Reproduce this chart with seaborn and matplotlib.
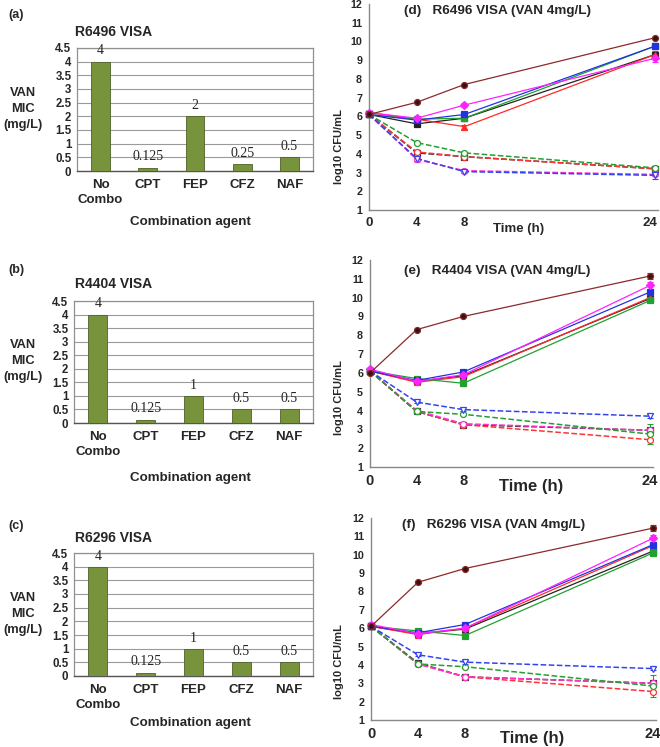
import numpy as np
import pandas as pd
import matplotlib
matplotlib.use("Agg")
import matplotlib.pyplot as plt
import matplotlib.transforms as mtransforms
import seaborn as sns

sns.set_theme(style="white")
plt.rcParams['font.family'] = ['Liberation Sans', 'DejaVu Sans']

# ---------------- data ----------------
agents = ["No\nCombo", "CPT", "FEP", "CFZ", "NAF"]
mic_R6496 = [4, 0.125, 2, 0.25, 0.5]
mic_R4404 = [4, 0.125, 1, 0.5, 0.5]
mic_R6296 = [4, 0.125, 1, 0.5, 0.5]
mic_labels_R6496 = ["4", "0.125", "2", "0.25", "0.5"]
mic_labels_R4404 = ["4", "0.125", "1", "0.5", "0.5"]
mic_labels_R6296 = ["4", "0.125", "1", "0.5", "0.5"]

times = [0, 4, 8, 24]

# panel (d) R6496
d_solid_brown = [6.1, 6.75, 7.7, 10.2]
d_solid_magenta = [6.2, 5.9, 6.6, 9.1]
d_solid_blue = [6.1, 5.8, 6.1, 9.75]
d_solid_green = [6.1, 5.85, 5.9, 9.75]
d_solid_black = [6.1, 5.6, 5.9, 9.3]
d_solid_red = [6.2, 5.85, 5.45, 9.3]
d_dash_green = [6.1, 4.6, 4.05, 3.25]
d_dash_red = [6.1, 4.1, 3.85, 3.2]
d_dash_black = [6.1, 4.05, 3.85, 3.2]
d_dash_blue = [6.1, 3.75, 3.05, 2.85]
d_dash_magenta = [6.1, 3.7, 3.1, 2.9]

# panel (e) R4404
e_solid_brown = [6.0, 8.3, 9.0, 11.15]
e_solid_magenta = [6.2, 5.55, 5.9, 10.65]
e_solid_blue = [6.1, 5.6, 6.05, 10.3]
e_solid_green = [6.1, 5.7, 5.45, 9.85]
e_solid_black = [6.1, 5.55, 5.85, 9.95]
e_solid_red = [6.1, 5.5, 5.8, 10.0]
e_dash_green = [6.1, 3.95, 3.8, 2.75]
e_dash_red = [6.1, 3.95, 3.25, 2.45]
e_dash_black = [6.1, 3.95, 3.25, 2.95]
e_dash_blue = [6.1, 4.45, 4.05, 3.7]
e_dash_magenta = [6.1, 4.0, 3.3, 2.95]

# panel (f) R6296
f_solid_brown = [6.1, 8.5, 9.25, 11.45]
f_solid_magenta = [6.2, 5.7, 6.0, 10.9]
f_solid_blue = [6.1, 5.75, 6.2, 10.55]
f_solid_green = [6.1, 5.85, 5.6, 10.1]
f_solid_black = [6.1, 5.7, 5.95, 10.2]
f_solid_red = [6.1, 5.65, 6.0, 10.5]
f_dash_green = [6.1, 4.05, 3.9, 2.85]
f_dash_red = [6.1, 4.05, 3.35, 2.55]
f_dash_black = [6.1, 4.1, 3.35, 3.0]
f_dash_blue = [6.1, 4.55, 4.15, 3.8]
f_dash_magenta = [6.1, 4.05, 3.35, 3.0]

# standard deviations (only the visible ones)
d_err = {"solid_magenta": [0.1, 0.05, 0.1, 0.2], "solid_red": [0.05, 0.05, 0.1, 0.2],
         "dash_blue": [0.05, 0.15, 0.05, 0.2], "dash_green": [0.05, 0.05, 0.05, 0.12],
         "dash_magenta": [0.05, 0.15, 0.05, 0.1]}
e_err = {"solid_magenta": [0.05, 0.05, 0.05, 0.2], "solid_green": [0.05, 0.05, 0.15, 0.1],
         "dash_green": [0.05, 0.05, 0.05, 0.55], "dash_blue": [0.05, 0.05, 0.05, 0.1],
         "solid_brown": [0.05, 0.05, 0.05, 0.15]}
f_err = {"solid_magenta": [0.05, 0.05, 0.05, 0.2], "solid_green": [0.05, 0.05, 0.15, 0.1],
         "dash_green": [0.05, 0.05, 0.05, 0.6], "dash_blue": [0.05, 0.05, 0.1, 0.1],
         "solid_brown": [0.05, 0.05, 0.05, 0.15]}

# ---------------- styles ----------------
STYLE = {
    "solid_brown":   dict(color="#8B2A2A", marker="o", ls="-",  face="#3a1010"),
    "solid_magenta": dict(color="#FF22FF", marker="D", ls="-",  face="#FF22FF"),
    "solid_red":     dict(color="#FF2A2A", marker="^", ls="-",  face="#FF2A2A"),
    "solid_black":   dict(color="#222222", marker="s", ls="-",  face="#222222"),
    "solid_green":   dict(color="#22A030", marker="s", ls="-",  face="#22A030"),
    "solid_blue":    dict(color="#2233DD", marker="s", ls="-",  face="#2233DD"),
    "dash_black":    dict(color="#333333", marker="s", ls="--", face="white"),
    "dash_red":      dict(color="#FF3333", marker="o", ls="--", face="white"),
    "dash_magenta":  dict(color="#FF33CC", marker="o", ls="--", face="white"),
    "dash_green":    dict(color="#22A030", marker="o", ls="--", face="white"),
    "dash_blue":     dict(color="#3344EE", marker="v", ls="--", face="white"),
}

W, H = 660, 747
fig = plt.figure(figsize=(W / 100, H / 100), dpi=100)
fig.patch.set_facecolor("white")


def rect(l, t, r, b):
    return [l / W, 1 - b / H, (r - l) / W, (b - t) / H]


def ftext(x, y, s, **kw):
    fig.text(x / W, 1 - y / H, s, **kw)


BAR_COLOR = "#77933C"
BAR_EDGE = "#4F6228"


def bar_panel(r, values, labels, letter, title, letter_y, title_y, ylab_y, xlab_y):
    ax = fig.add_axes(rect(*r))
    df = pd.DataFrame({"agent": agents, "mic": values})
    sns.barplot(data=df, x="agent", y="mic", color=BAR_COLOR, saturation=1,
                width=0.4, edgecolor=BAR_EDGE, linewidth=0.6, ax=ax, zorder=3)
    ax.set_ylim(0, 4.5)
    ax.set_xlim(-0.5, 4.5)
    ax.set_yticks(np.arange(0, 4.51, 0.5))
    ax.set_yticklabels(["0", "0.5", "1", "1.5", "2", "2.5", "3", "3.5", "4", "4.5"],
                       fontsize=8.3, fontweight="bold")
    ax.yaxis.grid(True, color="#9a9a9a", linewidth=0.8, zorder=0)
    ax.set_axisbelow(True)
    ax.set_xlabel("")
    ax.set_ylabel("")
    ax.set_xticks(range(len(agents)))
    ax.set_xticklabels(agents, fontsize=9.5, fontweight="bold", linespacing=1.3)
    ax.set_xticks(np.arange(-0.5, 4.6, 1), minor=True)
    ax.tick_params(axis="x", which="major", length=0, pad=6)
    ax.tick_params(axis="x", which="minor", length=4, width=0.8, color="#555555", direction="out")
    ax.tick_params(axis="y", length=3, width=0.8, color="#555555", direction="out", pad=1)
    for s in ["top", "right", "left"]:
        ax.spines[s].set_color("#909090")
        ax.spines[s].set_linewidth(0.9)
    ax.spines["bottom"].set_color("#555555")
    ax.spines["bottom"].set_linewidth(1.0)
    ax.bar_label(ax.containers[0], labels=labels, padding=3,
                 fontfamily="Liberation Serif", fontsize=10)
    ftext(8, letter_y, letter, fontsize=9, fontweight="bold", va="center", ha="left")
    ftext(75, title_y, title, fontsize=10, fontweight="bold", va="center", ha="left")
    ftext(23, ylab_y, "VAN\nMIC\n(mg/L)", fontsize=9.3, fontweight="bold",
          va="center", ha="center", linespacing=1.4)
    ftext(190, xlab_y, "Combination agent", fontsize=9.6, fontweight="bold",
          va="center", ha="center")
    return ax


bar_panel((77, 48, 313, 171), mic_R6496, mic_labels_R6496, "(a)", "R6496 VISA", 15, 32, 109, 222)
bar_panel((74, 301, 313, 423), mic_R4404, mic_labels_R4404, "(b)", "R4404 VISA", 270, 284, 361, 478)
bar_panel((74, 553, 313, 676), mic_R6296, mic_labels_R6296, "(c)", "R6296 VISA", 526, 538, 614, 723)


def line_panel(r, xmax, series, errs, title, title_xy, ylab_xy, time_xy, tick_fs, time_fs,
               last_shift=0):
    ax = fig.add_axes(rect(*r))
    ax.set_facecolor("white")
    order = ["dash_black", "dash_red", "dash_magenta", "dash_green", "dash_blue",
             "solid_black", "solid_red", "solid_green", "solid_blue", "solid_magenta", "solid_brown"]
    for key in order:
        if key not in series:
            continue
        vals = series[key]
        st = STYLE[key]
        dashed = st["ls"] == "--"
        sns.lineplot(x=times, y=vals, ax=ax, color=st["color"], marker=st["marker"],
                     linestyle=st["ls"], linewidth=1.1 if dashed else 0.9,
                     markersize=4.3, markerfacecolor=st["face"], markeredgecolor=st["color"],
                     markeredgewidth=0.9, clip_on=False, zorder=3,
                     **({"dashes": (5.5, 3)} if dashed else {}))
        if key in errs:
            ax.errorbar(times, vals, yerr=errs[key], fmt="none", ecolor=st["color"],
                        elinewidth=0.8, capsize=2, capthick=0.8, clip_on=False, zorder=2)
    ax.set_xlim(0, xmax)
    ax.set_ylim(1, 12)
    ax.set_xticks(times)
    ax.set_xticklabels([str(t) for t in times], fontsize=tick_fs, fontweight="bold")
    ax.set_yticks(range(1, 13))
    ax.set_yticklabels([str(v) for v in range(1, 13)], fontsize=7.7, fontweight="bold")
    ax.tick_params(axis="both", length=3, width=0.8, color="#666666", direction="out", pad=2)
    if last_shift:
        lab = ax.get_xticklabels()[-1]
        lab.set_transform(lab.get_transform() +
                          mtransforms.ScaledTranslation(last_shift / 100, 0, fig.dpi_scale_trans))
    ax.set_xlabel("")
    ax.set_ylabel("")
    for s in ["top", "right"]:
        ax.spines[s].set_visible(False)
    for s in ["left", "bottom"]:
        ax.spines[s].set_color("#888888")
        ax.spines[s].set_linewidth(1.0)
    ftext(title_xy[0], title_xy[1], title, fontsize=9.7, fontweight="bold", ha="center", va="center")
    ftext(ylab_xy[0], ylab_xy[1], "log10 CFU/mL", fontsize=8, fontweight="bold",
          ha="center", va="center", rotation=90)
    ftext(time_xy[0], time_xy[1], "Time (h)", fontsize=time_fs, fontweight="bold",
          ha="center", va="center")
    return ax


d_series = {"solid_brown": d_solid_brown, "solid_magenta": d_solid_magenta, "solid_blue": d_solid_blue,
            "solid_green": d_solid_green, "solid_black": d_solid_black, "solid_red": d_solid_red,
            "dash_green": d_dash_green, "dash_red": d_dash_red, "dash_black": d_dash_black,
            "dash_blue": d_dash_blue, "dash_magenta": d_dash_magenta}
e_series = {"solid_brown": e_solid_brown, "solid_magenta": e_solid_magenta, "solid_blue": e_solid_blue,
            "solid_green": e_solid_green, "solid_black": e_solid_black, "solid_red": e_solid_red,
            "dash_green": e_dash_green, "dash_red": e_dash_red, "dash_black": e_dash_black,
            "dash_blue": e_dash_blue, "dash_magenta": e_dash_magenta}
f_series = {"solid_brown": f_solid_brown, "solid_magenta": f_solid_magenta, "solid_blue": f_solid_blue,
            "solid_green": f_solid_green, "solid_black": f_solid_black, "solid_red": f_solid_red,
            "dash_green": f_dash_green, "dash_red": f_dash_red, "dash_black": f_dash_black,
            "dash_blue": f_dash_blue, "dash_magenta": f_dash_magenta}

line_panel((369, 4, 658, 210), 24.25, d_series, d_err, "(d)   R6496 VISA (VAN 4mg/L)",
           (498, 11), (339, 147), (519, 229), 9.5, 9.5, last_shift=-5)
line_panel((370, 260, 653, 467), 24.25, e_series, e_err, "(e)   R4404 VISA (VAN 4mg/L)",
           (497, 271), (339, 398), (531, 487), 10.5, 12)
line_panel((371, 518, 656, 720), 24.25, f_series, f_err, "(f)   R6296 VISA (VAN 4mg/L)",
           (494, 525), (339, 662), (532, 738), 10.5, 12)

fig.savefig("out.png", dpi=100, facecolor="white")
